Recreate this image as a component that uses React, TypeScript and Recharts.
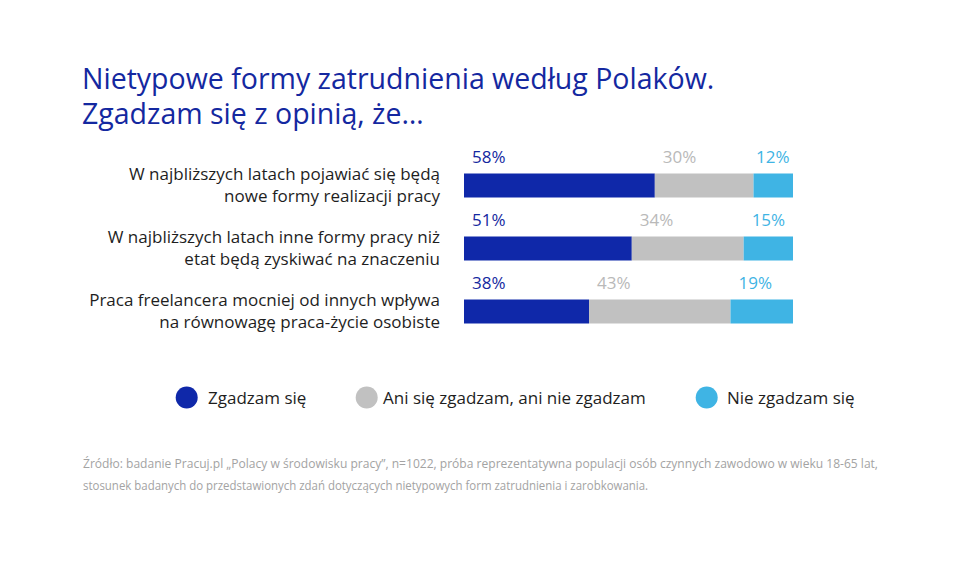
import React from 'react';
import { BarChart, Bar, XAxis, YAxis, LabelList } from 'recharts';

const categoryLines: string[][] = [
  ['W najbliższych latach pojawiać się będą', 'nowe formy realizacji pracy'],
  ['W najbliższych latach inne formy pracy niż', 'etat będą zyskiwać na znaczeniu'],
  ['Praca freelancera mocniej od innych wpływa', 'na równowagę praca-życie osobiste'],
];
const agreeValues = [58, 51, 38];
const neutralValues = [30, 34, 43];
const disagreeValues = [12, 15, 19];
const seriesNames = ['Zgadzam się', 'Ani się zgadzam, ani nie zgadzam', 'Nie zgadzam się'];
const titleLines = ['Nietypowe formy zatrudnienia według Polaków.', 'Zgadzam się z opinią, że…'];
const sourceLines = [
  'Źródło: badanie Pracuj.pl „Polacy w środowisku pracy”, n=1022, próba reprezentatywna populacji osób czynnych zawodowo w wieku 18-65 lat,',
  'stosunek badanych do przedstawionych zdań dotyczących nietypowych form zatrudnienia i zarobkowania.',
];

const BAR_COLORS = ['#0f28a9', '#c1c1c1', '#3fb4e4'];
const LABEL_COLORS = ['#1428a0', '#b9b9b9', '#3fb4e4'];
const FONT = '"Open Sans", "Noto Sans", sans-serif';

const data = categoryLines.map((lines, i) => ({
  name: lines.join(' '),
  lines,
  agree: agreeValues[i],
  neutral: neutralValues[i],
  disagree: disagreeValues[i],
}));

const CategoryTick = (props: any) => {
  const { x, y, payload } = props;
  const row = data.find((d) => d.name === payload.value);
  const lines = row ? row.lines : [String(payload.value)];
  return (
    <text x={x} y={y} textAnchor="end" fill="#1e1e1e" fontSize={17} fontFamily={FONT}>
      <tspan x={x} y={y - 5}>{lines[0]}</tspan>
      <tspan x={x} y={y + 16.5}>{lines[1]}</tspan>
    </text>
  );
};

const makeLabel = (idx: number) => (props: any) => {
  const { x, y, width, value } = props;
  let tx = x + 8;
  if (idx === 2) tx = Math.min(x + 8, x + width - 37);
  return (
    <text x={tx} y={y - 11} fill={LABEL_COLORS[idx]} fontSize={17} fontFamily={FONT} textAnchor="start">
      {value}%
    </text>
  );
};

const legendX = [{ c: 186.7, t: 208 }, { c: 366.7, t: 383 }, { c: 706.7, t: 727 }];

export default function App() {
  return (
    <div style={{ position: 'absolute', left: 0, top: 0, width: 960, height: 566, background: '#fff' }}>
      <div style={{ position: 'absolute', left: 0, top: 0 }}>
        <BarChart
          width={960}
          height={566}
          data={data}
          layout="vertical"
          margin={{ top: 153.5, right: 167, bottom: 223.5, left: 0 }}
          barSize={24}
        >
          <XAxis type="number" domain={[0, 100]} hide />
          <YAxis
            type="category"
            dataKey="name"
            width={464}
            axisLine={false}
            tickLine={false}
            tickSize={0}
            tickMargin={24}
            tick={<CategoryTick />}
            interval={0}
          />
          <Bar dataKey="agree" stackId="a" fill={BAR_COLORS[0]} name={seriesNames[0]} isAnimationActive={false}>
            <LabelList dataKey="agree" content={makeLabel(0)} />
          </Bar>
          <Bar dataKey="neutral" stackId="a" fill={BAR_COLORS[1]} name={seriesNames[1]} isAnimationActive={false}>
            <LabelList dataKey="neutral" content={makeLabel(1)} />
          </Bar>
          <Bar dataKey="disagree" stackId="a" fill={BAR_COLORS[2]} name={seriesNames[2]} isAnimationActive={false}>
            <LabelList dataKey="disagree" content={makeLabel(2)} />
          </Bar>
        </BarChart>
      </div>
      <svg width={960} height={566} style={{ position: 'absolute', left: 0, top: 0, pointerEvents: 'none' }}>
        <text x={82} y={88.5} fontSize={28.5} fill="#1428a0" fontFamily={FONT}>{titleLines[0]}</text>
        <text x={82} y={123.5} fontSize={28.5} fill="#1428a0" fontFamily={FONT}>{titleLines[1]}</text>
        {seriesNames.map((n, i) => (
          <g key={n}>
            <circle cx={legendX[i].c} cy={397.5} r={11} fill={BAR_COLORS[i]} />
            <text x={legendX[i].t} y={404} fontSize={17} fill="#1e1e1e" fontFamily={FONT}>
              {n}
            </text>
          </g>
        ))}
        <text x={83} y={468} fontSize={13} fill="#a3a3a3" fontFamily={FONT} textLength={795} lengthAdjust="spacingAndGlyphs">{sourceLines[0]}</text>
        <text x={83} y={490} fontSize={13} fill="#a3a3a3" fontFamily={FONT} textLength={565} lengthAdjust="spacingAndGlyphs">{sourceLines[1]}</text>
      </svg>
    </div>
  );
}
